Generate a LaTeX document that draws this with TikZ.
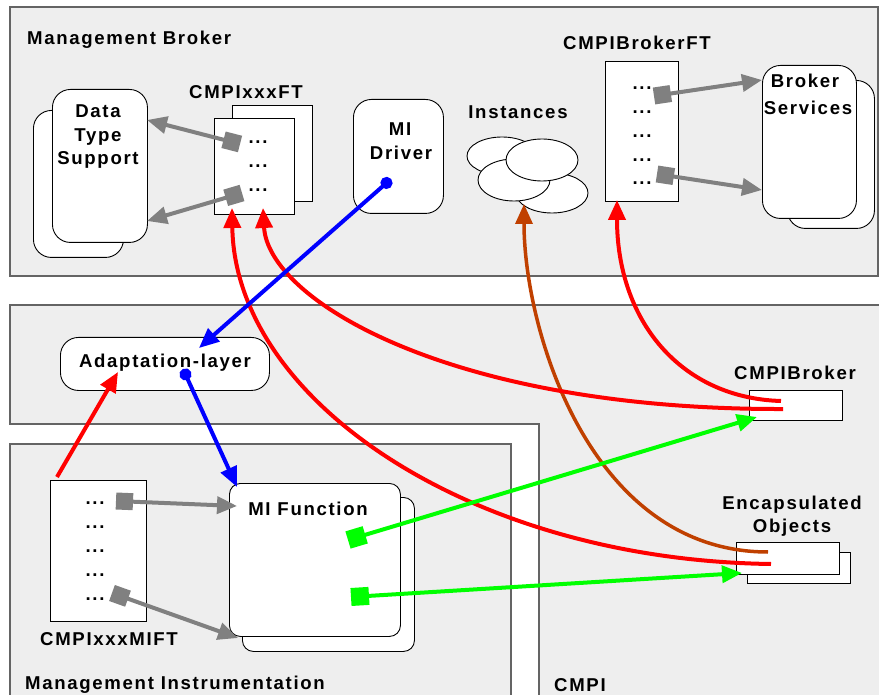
\documentclass[tikz,border=0pt]{standalone}
\usepackage{fontspec}
\setmainfont{Liberation Sans}[LetterSpace=9]
\usetikzlibrary{arrows.meta,shapes.geometric,positioning}

\definecolor{panelFill}{RGB}{238,238,238}
\definecolor{panelLine}{RGB}{100,100,100}
\definecolor{linkGray}{RGB}{128,128,128}
\definecolor{instBrown}{RGB}{192,64,0}
\definecolor{callGreen}{RGB}{0,255,0}

\tikzset{
  panel/.style={fill=panelFill, draw=panelLine, line width=1.2pt},
  plainBox/.style={draw=black, fill=white, line width=0.9pt, inner sep=0pt, anchor=north west},
  softBox/.style={plainBox, rounded corners=#1},
  instance/.style={ellipse, draw=black, fill=white, line width=0.9pt, inner sep=0pt},
  lbl/.style={font=\bfseries\fontsize{18.6}{23.5}\selectfont, inner sep=0pt, anchor=base},
  tag/.style={lbl, anchor=base west},
  tip/.style={-{Triangle[length=20pt,width=17pt]}},
  grayLink/.style={linkGray, line width=4pt, {Square[length=17pt,width=17pt]}-{Triangle[length=20pt,width=17pt]}},
  greenLink/.style={callGreen, line width=4pt, {Square[length=18pt,width=18pt]}-{Triangle[length=20pt,width=17pt]}},
  blueLink/.style={blue, line width=4pt, {Circle[length=12pt]}-{Triangle[length=20pt,width=17pt]}},
  redLink/.style={red, line width=4pt, tip},
  brownLink/.style={instBrown, line width=3.5pt, tip}
}

% column of "..." entries: x, first y, count, name prefix
\newcommand{\drawDots}[4]{
  \foreach \i in {1,...,#3}
    \node[lbl] (#4\i) at (#1, {#2+24*(\i-1)+2}) {...};
}

\begin{document}
\begin{tikzpicture}[x=1pt,y=-1pt]
\useasboundingbox (0,0) rectangle (879,695);

% Panels
\draw[panel] (10,7) rectangle (878,276);
\draw[panel] (10,305) -- (890,305) -- (890,705) -- (539,705) -- (539,424) -- (10,424) -- cycle;
\draw[panel] (10,705) -- (10,444) -- (511,444) -- (511,705);

\node[tag] (brokerTag) at (27,44.7) {Management Broker};
\node[tag] (miTag) at (25,689.3) {Management Instrumentation};
\node[tag] (cmpiTag) at (554,691) {CMPI};

% Data type support
\node[softBox=18pt, minimum width=90pt, minimum height=147pt] (dtsBack) at (33,110) {};
\node[softBox=18pt, minimum width=95pt, minimum height=153pt] (dtsFront) at (52,89) {};
\node[lbl] (dtsText1) at (98,118) {Data};
\node[lbl] (dtsText2) at (98,141.5) {Type};
\node[lbl] (dtsText3) at (98,165) {Support};

% CMPIxxxFT
\node[lbl] (ftTag) at (246,98.3) {CMPIxxxFT};
\node[plainBox, minimum width=80pt, minimum height=96pt] (ftBack) at (232,105) {};
\node[plainBox, minimum width=80pt, minimum height=96pt] (ftFront) at (214,118) {};
\drawDots{258}{142}{3}{ftDot}

% MI driver
\node[softBox=18pt, minimum width=90pt, minimum height=114pt] (drv) at (353,99) {};
\node[lbl] (drvText1) at (400,136) {MI};
\node[lbl] (drvText2) at (401,159.3) {Driver};

% Instances
\node[lbl] (instTag) at (518,119) {Instances};
\node[instance, minimum width=70pt, minimum height=38pt] (inst1) at (502,156) {};
\node[instance, minimum width=72pt, minimum height=40pt] (inst4) at (552,193) {};
\node[instance, minimum width=72pt, minimum height=42pt] (inst2) at (514,180) {};
\node[instance, minimum width=72pt, minimum height=42pt] (inst3) at (542,160) {};

% CMPIBrokerFT
\node[lbl] (bftTag) at (637,49.3) {CMPIBrokerFT};
\node[plainBox, minimum width=73pt, minimum height=140pt] (bft) at (605,61) {};
\foreach \i/\y in {1/88,2/112,3/136,4/160,5/183}
  \node[lbl] (bftDot\i) at (642,\y+2) {...};

% Broker services
\node[softBox=18pt, minimum width=87pt, minimum height=148pt] (svcBack) at (787,80) {};
\node[softBox=18pt, minimum width=94pt, minimum height=153pt] (svcFront) at (762,65) {};
\node[lbl] (svcText1) at (805,87.7) {Broker};
\node[lbl] (svcText2) at (808,114.3) {Services};

% Adaptation layer
\node[softBox=18pt, minimum width=209pt, minimum height=53pt] (adapt) at (60,337) {};
\node[lbl] (adaptText) at (165,367.3) {Adaptation-layer};

% CMPIxxxMIFT
\node[plainBox, minimum width=96pt, minimum height=141pt] (mift) at (50,480) {};
\drawDots{95}{502}{5}{miftDot}
\node[lbl] (miftTag) at (109,645.7) {CMPIxxxMIFT};

% MI function
\node[softBox=11pt, minimum width=172pt, minimum height=154pt] (fnBack) at (242,497) {};
\node[softBox=11pt, minimum width=171pt, minimum height=153pt] (fnFront) at (229,483) {};
\node[lbl] (fnText) at (308,515) {MI Function};

% CMPIBroker and encapsulated objects
\node[lbl] (brkTag) at (795,379.3) {CMPIBroker};
\node[plainBox, minimum width=93pt, minimum height=30pt] (brk) at (749,390) {};
\node[lbl] (encText1) at (792,509.3) {Encapsulated};
\node[lbl] (encText2) at (792,532.7) {Objects};
\node[plainBox, minimum width=103pt, minimum height=31pt] (encBack) at (747,552) {};
\node[plainBox, minimum width=103pt, minimum height=32pt] (encFront) at (736,542) {};

% Connector ends
\coordinate (ftOut1) at (240,144);
\coordinate (ftOut2) at (242,193);
\coordinate (dtsIn1) at (147,120);
\coordinate (dtsIn2) at (147,221);
\coordinate (bftOut1) at (654,96);
\coordinate (bftOut2) at (657,174);
\coordinate (svcIn1) at (762,80);
\coordinate (svcIn2) at (762,190);
\coordinate (miftOut1) at (116,501);
\coordinate (miftOut2) at (112,593);
\coordinate (fnIn1) at (237,506);
\coordinate (fnIn2) at (238,638);
\coordinate (fnTop) at (237,487);
\coordinate (fnOut1) at (348,540);
\coordinate (fnOut2) at (351,597);
\coordinate (brkIn) at (757,417);
\coordinate (encIn) at (742,573);
\coordinate (drvOut) at (391,179);
\coordinate (adaptIn) at (199,348);
\coordinate (adaptOut) at (183,369);
\coordinate (adaptUp) at (118,372);
\coordinate (miftUp) at (57,477);
\coordinate (brkEnd1) at (781,401);
\coordinate (brkEnd2) at (783,409);
\coordinate (encEnd1) at (768,552);
\coordinate (encEnd2) at (771,564);
\coordinate (ftIn1) at (232,208);
\coordinate (ftIn2) at (263,208);
\coordinate (bftIn) at (617,200);
\coordinate (instIn) at (524,204);

% Function table links
\draw[grayLink] (ftOut1) -- (dtsIn1);
\draw[grayLink] (ftOut2) -- (dtsIn2);
\draw[grayLink] (bftOut1) -- (svcIn1);
\draw[grayLink] (bftOut2) -- (svcIn2);
\draw[grayLink] (miftOut1) -- (fnIn1);
\draw[grayLink] (miftOut2) -- (fnIn2);

% Calls
\draw[brownLink] (encEnd1) .. controls (590,552) and (524,330) .. (instIn);
\draw[redLink] (brkEnd1) .. controls (680,398) and (617,320) .. (bftIn);
\draw[redLink] (brkEnd2) .. controls (450,410) and (268,300) .. (ftIn2);
\draw[redLink] (encEnd2) .. controls (470,560) and (235,400) .. (ftIn1);
\draw[redLink] (miftUp) -- (adaptUp);
\draw[blueLink] (drvOut) -- (adaptIn);
\draw[blueLink] (adaptOut) -- (fnTop);
\draw[greenLink] (fnOut1) -- (brkIn);
\draw[greenLink] (fnOut2) -- (encIn);

\end{tikzpicture}
\end{document}
